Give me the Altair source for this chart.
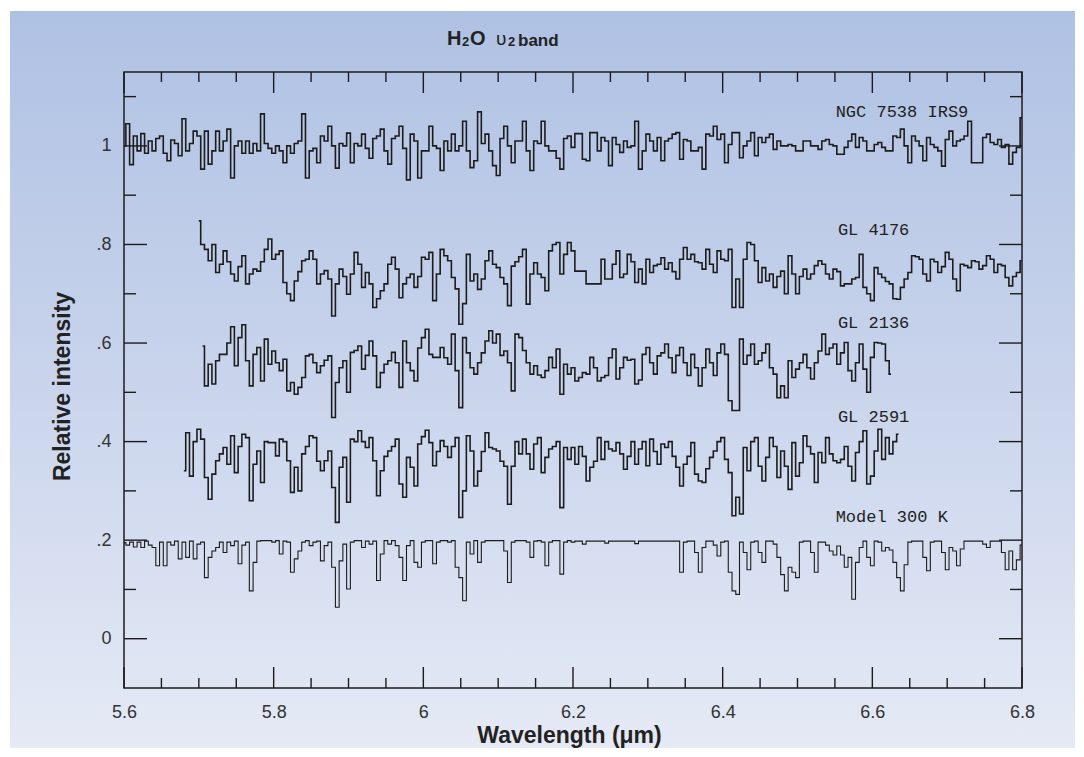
import altair as alt
import pandas as pd

# ---------------- data ----------------
STEP = 0.005  # wavelength sampling of the spectra (micron)

ngc_start = 5.600
ngc = [1.00, 1.045, 0.962, 1.02, 0.99, 1.025, 0.985, 1.01, 0.99, 1.015,
       1.02, 0.985, 0.97, 1.012, 1.005, 0.98, 1.055, 0.99, 1.005, 1.03,
       1.02, 0.953, 1.03, 0.963, 0.99, 1.03, 0.99, 1.01, 1.034, 0.935,
       1.0, 1.01, 0.985, 1.01, 0.985, 1.005, 0.99, 1.065, 1.005, 0.995,
       0.985, 1.0, 0.99, 0.966, 1.0, 0.985, 1.005, 1.01, 1.065, 0.935,
       0.99, 0.995, 0.966, 1.02, 1.01, 1.04, 1.0, 0.955, 1.005, 1.0,
       1.026, 0.966, 1.005, 1.0, 1.024, 0.995, 0.975, 1.015, 1.02, 1.034,
       0.99, 0.963, 1.015, 1.02, 1.04, 0.995, 0.931, 1.024, 1.01, 0.935,
       0.99, 0.99, 1.04, 1.0, 0.995, 0.95, 1.01, 0.99, 1.024, 0.99,
       1.0, 1.05, 0.99, 0.956, 0.97, 1.069, 1.005, 1.024, 0.99, 0.96,
       0.94, 1.015, 1.04, 1.0, 0.966, 1.01, 1.01, 1.05, 0.99, 0.95,
       1.01, 1.005, 1.05, 1.0, 0.99, 0.99, 0.975, 0.953, 1.015, 1.02,
       0.997, 1.025, 1.025, 0.973, 0.97, 1.027, 1.027, 0.99, 1.017, 1.01,
       0.96, 1.017, 1.003, 0.987, 1.01, 0.997, 1.0, 1.05, 0.953, 0.99,
       1.024, 1.01, 0.99, 1.017, 0.97, 1.01, 1.015, 1.024, 1.027, 0.973,
       1.013, 1.01, 0.99, 0.99, 0.997, 0.953, 1.024, 1.02, 1.04, 1.013,
       1.024, 0.966, 1.003, 1.027, 1.027, 0.976, 1.0, 1.01, 1.027, 0.98,
       1.017, 1.007, 1.017, 1.024, 0.993, 1.01, 1.0, 1.0, 1.003, 1.0,
       0.99, 0.99, 1.01, 1.01, 1.0, 1.0, 0.993, 1.01, 1.013, 1.003,
       1.0, 0.983, 0.983, 0.997, 1.01, 1.024, 0.997, 1.017, 1.01, 0.99,
       0.99, 1.003, 1.007, 0.997, 0.99, 0.99, 1.02, 1.017, 1.034, 1.0,
       0.966, 1.02, 1.01, 1.0, 0.97, 1.017, 1.003, 0.997, 0.99, 0.959,
       1.013, 1.03, 1.0, 1.01, 1.013, 1.02, 1.05, 0.966, 0.966, 0.966,
       1.017, 1.024, 1.007, 1.003, 1.013, 0.997, 1.003, 0.963, 0.987, 0.997, 1.057]

gl4176_start = 5.700
gl4176 = [0.848, 0.80, 0.79, 0.767, 0.80, 0.743, 0.76, 0.787, 0.765, 0.74,
          0.726, 0.755, 0.777, 0.72, 0.74, 0.75, 0.746, 0.765, 0.79, 0.811,
          0.77, 0.78, 0.787, 0.723, 0.70, 0.686, 0.726, 0.745, 0.767, 0.77,
          0.787, 0.77, 0.72, 0.74, 0.747, 0.73, 0.655, 0.72, 0.75, 0.735,
          0.699, 0.74, 0.784, 0.76, 0.713, 0.743, 0.72, 0.672, 0.69, 0.706,
          0.72, 0.76, 0.774, 0.75, 0.692, 0.72, 0.733, 0.74, 0.713, 0.735,
          0.774, 0.77, 0.784, 0.686, 0.74, 0.79, 0.777, 0.767, 0.733, 0.71,
          0.638, 0.68, 0.78, 0.726, 0.74, 0.709, 0.73, 0.767, 0.787, 0.76,
          0.753, 0.733, 0.72, 0.676, 0.756, 0.765, 0.775, 0.79, 0.679, 0.74,
          0.763, 0.74, 0.733, 0.706, 0.787, 0.80, 0.804, 0.74, 0.78, 0.804,
          0.787, 0.746, 0.746, 0.746, 0.72, 0.72, 0.72, 0.72, 0.77, 0.73,
          0.73, 0.76, 0.787, 0.733, 0.74, 0.78, 0.765, 0.723, 0.75, 0.72,
          0.77, 0.743, 0.757, 0.76, 0.773, 0.75, 0.763, 0.745, 0.73, 0.77,
          0.794, 0.77, 0.78, 0.765, 0.763, 0.75, 0.79, 0.76, 0.743, 0.787,
          0.77, 0.767, 0.79, 0.672, 0.73, 0.672, 0.77, 0.804, 0.80, 0.767,
          0.723, 0.753, 0.726, 0.74, 0.713, 0.735, 0.746, 0.70, 0.777, 0.74,
          0.70, 0.735, 0.75, 0.73, 0.74, 0.757, 0.767, 0.76, 0.74, 0.73,
          0.75, 0.745, 0.716, 0.72, 0.72, 0.73, 0.733, 0.78, 0.713, 0.70,
          0.686, 0.753, 0.74, 0.733, 0.725, 0.72, 0.69, 0.689, 0.713, 0.73,
          0.743, 0.777, 0.775, 0.77, 0.74, 0.726, 0.77, 0.765, 0.743, 0.755,
          0.784, 0.77, 0.73, 0.706, 0.76, 0.757, 0.753, 0.767, 0.765, 0.75,
          0.757, 0.777, 0.77, 0.743, 0.76, 0.757, 0.733, 0.716, 0.735, 0.743, 0.767]

gl2136_start = 5.705
gl2136 = [0.594, 0.513, 0.557, 0.517, 0.564, 0.577, 0.577, 0.60, 0.633,
          0.554, 0.611, 0.637, 0.564, 0.513, 0.577, 0.591, 0.523, 0.608, 0.557,
          0.584, 0.56, 0.544, 0.567, 0.503, 0.52, 0.496, 0.51, 0.53, 0.574,
          0.577, 0.56, 0.54, 0.554, 0.565, 0.574, 0.449, 0.52, 0.55, 0.564,
          0.50, 0.581, 0.585, 0.594, 0.547, 0.575, 0.604, 0.574, 0.51, 0.54,
          0.557, 0.564, 0.581, 0.56, 0.51, 0.604, 0.56, 0.544, 0.523, 0.59,
          0.611, 0.628, 0.577, 0.571, 0.571, 0.591, 0.57, 0.557, 0.618, 0.544,
          0.469, 0.611, 0.58, 0.55, 0.537, 0.56, 0.58, 0.604, 0.625, 0.60,
          0.618, 0.575, 0.584, 0.56, 0.503, 0.618, 0.611, 0.585, 0.56, 0.537,
          0.554, 0.535, 0.53, 0.544, 0.571, 0.55, 0.588, 0.496, 0.557, 0.537,
          0.55, 0.523, 0.53, 0.54, 0.537, 0.571, 0.55, 0.523, 0.53, 0.534,
          0.57, 0.588, 0.527, 0.55, 0.571, 0.565, 0.567, 0.517, 0.525, 0.577,
          0.591, 0.56, 0.537, 0.574, 0.58, 0.598, 0.57, 0.54, 0.575, 0.591,
          0.56, 0.534, 0.577, 0.55, 0.513, 0.55, 0.588, 0.56, 0.534, 0.58,
          0.598, 0.577, 0.483, 0.463, 0.463, 0.608, 0.557, 0.575, 0.598, 0.557,
          0.564, 0.58, 0.598, 0.55, 0.537, 0.489, 0.513, 0.489, 0.564, 0.53,
          0.547, 0.56, 0.577, 0.55, 0.527, 0.56, 0.584, 0.618, 0.577, 0.59,
          0.598, 0.557, 0.58, 0.601, 0.544, 0.523, 0.56, 0.598, 0.547, 0.50,
          0.571, 0.601, 0.60, 0.598, 0.564, 0.537]

gl2591_start = 5.680
gl2591 = [0.341, 0.418, 0.33, 0.40,
          0.425, 0.405, 0.327, 0.283, 0.334, 0.361, 0.375, 0.388, 0.354, 0.412,
          0.337, 0.39, 0.415, 0.408, 0.28, 0.354, 0.381, 0.317, 0.40, 0.398,
          0.398, 0.371, 0.405, 0.40, 0.361, 0.297, 0.348, 0.30, 0.375, 0.39,
          0.412, 0.408, 0.36, 0.341, 0.361, 0.381, 0.307, 0.236, 0.348, 0.368,
          0.277, 0.405, 0.40, 0.422, 0.40, 0.388, 0.408, 0.361, 0.29, 0.341,
          0.37, 0.381, 0.39, 0.405, 0.314, 0.287, 0.368, 0.348, 0.31, 0.395,
          0.41, 0.423, 0.398, 0.351, 0.38, 0.402, 0.39, 0.368, 0.39, 0.408,
          0.246, 0.30, 0.412, 0.381, 0.31, 0.34, 0.38, 0.418, 0.388, 0.385,
          0.381, 0.36, 0.35, 0.273, 0.35, 0.40, 0.375, 0.405, 0.375, 0.344,
          0.395, 0.408, 0.337, 0.368, 0.385, 0.39, 0.40, 0.266, 0.388, 0.364,
          0.388, 0.354, 0.39, 0.37, 0.32, 0.348, 0.36, 0.408, 0.364, 0.40,
          0.385, 0.381, 0.398, 0.375, 0.344, 0.37, 0.40, 0.354, 0.385, 0.40,
          0.351, 0.405, 0.38, 0.354, 0.395, 0.388, 0.40, 0.37, 0.348, 0.31,
          0.354, 0.37, 0.398, 0.334, 0.32, 0.317, 0.345, 0.368, 0.381, 0.40,
          0.408, 0.364, 0.337, 0.2495, 0.287, 0.253, 0.388, 0.341, 0.40, 0.408,
          0.35, 0.32, 0.368, 0.408, 0.39, 0.327, 0.381, 0.35, 0.303, 0.398,
          0.33, 0.357, 0.412, 0.39, 0.375, 0.317, 0.378, 0.357, 0.408, 0.375,
          0.361, 0.357, 0.364, 0.39, 0.35, 0.32, 0.378, 0.40, 0.422, 0.314,
          0.33, 0.381, 0.425, 0.364, 0.408, 0.375, 0.40, 0.415]

model_start = 5.600
model = [0.195, 0.19, 0.196, 0.186, 0.196, 0.185, 0.198, 0.19, 0.185, 0.148,
         0.196, 0.148, 0.196, 0.19, 0.198, 0.162, 0.196, 0.165, 0.198, 0.162,
         0.192, 0.196, 0.124, 0.165, 0.178, 0.185, 0.196, 0.175, 0.196, 0.189,
         0.198, 0.152, 0.19, 0.196, 0.097, 0.155, 0.198, 0.199, 0.199, 0.199,
         0.196, 0.199, 0.172, 0.198, 0.196, 0.135, 0.162, 0.178, 0.196, 0.199,
         0.189, 0.196, 0.198, 0.158, 0.189, 0.196, 0.145, 0.064, 0.158, 0.192,
         0.101, 0.196, 0.199, 0.199, 0.185, 0.198, 0.192, 0.198, 0.118, 0.172,
         0.199, 0.192, 0.199, 0.189, 0.165, 0.118, 0.189, 0.199, 0.155, 0.145,
         0.196, 0.199, 0.199, 0.152, 0.196, 0.199, 0.199, 0.196, 0.199, 0.145,
         0.124, 0.077, 0.196, 0.172, 0.199, 0.155, 0.196, 0.199, 0.199, 0.199,
         0.199, 0.199, 0.178, 0.114, 0.196, 0.199, 0.199, 0.199, 0.196, 0.165,
         0.198, 0.199, 0.196, 0.148, 0.196, 0.199, 0.199, 0.131, 0.196, 0.199,
         0.196, 0.198, 0.198, 0.192, 0.198, 0.198, 0.198, 0.198, 0.198, 0.194,
         0.198, 0.198, 0.198, 0.198, 0.198, 0.198, 0.198, 0.193, 0.198, 0.198,
         0.198, 0.198, 0.198, 0.198, 0.198, 0.198, 0.198, 0.198, 0.198, 0.135,
         0.196, 0.198, 0.198, 0.175, 0.135, 0.185, 0.198, 0.198, 0.19, 0.168,
         0.196, 0.198, 0.135, 0.097, 0.09, 0.196, 0.175, 0.14, 0.196, 0.198,
         0.175, 0.155, 0.198, 0.198, 0.192, 0.165, 0.13, 0.097, 0.145, 0.135,
         0.124, 0.196, 0.198, 0.198, 0.175, 0.135, 0.196, 0.196, 0.19, 0.178,
         0.17, 0.188, 0.17, 0.145, 0.165, 0.08, 0.155, 0.185, 0.198, 0.165,
         0.148, 0.198, 0.196, 0.178, 0.185, 0.18, 0.155, 0.124, 0.097, 0.15,
         0.196, 0.198, 0.198, 0.198, 0.165, 0.138, 0.196, 0.198, 0.198, 0.175,
         0.14, 0.185, 0.178, 0.148, 0.182, 0.198, 0.198, 0.198, 0.198, 0.198,
         0.192, 0.185, 0.198, 0.198, 0.198, 0.175, 0.14, 0.178, 0.14, 0.16, 0.19]

label_names = ["NGC 7538 IRS9", "GL 4176", "GL 2136", "GL 2591", "Model 300 K"]
label_lam = [6.551, 6.554, 6.554, 6.554, 6.551]
label_val = [1.069, 0.830, 0.640, 0.450, 0.2475]

x_major = [5.6, 5.8, 6.0, 6.2, 6.4, 6.6, 6.8]
x_minor = [5.65, 5.7, 5.75, 5.85, 5.9, 5.95, 6.05, 6.1, 6.15, 6.25, 6.3,
           6.35, 6.45, 6.5, 6.55, 6.65, 6.7, 6.75]
y_major = [0.0, 0.2, 0.4, 0.6, 0.8, 1.0]
y_minor = [0.1, 0.3, 0.5, 0.7, 0.9, 1.1]

# ---------------- tables ----------------
def spectrum(name, start, vals):
    return pd.DataFrame({"series": name,
                         "lam": [round(start + i * STEP, 4) for i in range(len(vals))],
                         "val": vals})

obs = pd.concat([spectrum("NGC 7538 IRS9", ngc_start, ngc),
                 spectrum("GL 4176", gl4176_start, gl4176),
                 spectrum("GL 2136", gl2136_start, gl2136),
                 spectrum("GL 2591", gl2591_start, gl2591)], ignore_index=True)
mod = spectrum("Model 300 K", model_start, model)
labels = pd.DataFrame({"name": label_names, "lam": label_lam, "val": label_val})

W, H = 898, 616
INK = "#1c1c1c"
XT = "Wavelength (μm)"
YT = "Relative intensity"
xs = alt.Scale(domain=[5.6, 6.8], nice=False, zero=False)
ys = alt.Scale(domain=[-0.1, 1.15], nice=False, zero=False)
one = alt.Data(values=[{"k": 1}])

ax_x = alt.Axis(values=x_major, ticks=False, domain=False, grid=False, zindex=2,
                labelFlush=False,
                labelExpr="datum.value == 6 ? '6' : format(datum.value, '.1f')",
                labelFont="Liberation Sans", labelFontSize=18, labelColor="#333",
                labelPadding=15,
                titleFont="Liberation Sans", titleFontSize=23, titleFontWeight="bold",
                titleColor="#222", titleX=445, titleY=47,
                titleAlign="center", titleBaseline="middle")
ax_y = alt.Axis(values=y_major, ticks=False, domain=False, grid=False, zindex=2,
                labelFlush=False,
                labelExpr="datum.value == 0 ? '0' : datum.value == 1 ? '1' : '.' + round(datum.value * 10)",
                labelFont="Liberation Sans", labelFontSize=18, labelColor="#333",
                labelPadding=13,
                titleFont="Liberation Sans", titleFontSize=23, titleFontWeight="bold",
                titleColor="#222", titleX=-62, titleY=314,
                titleAlign="center", titleBaseline="middle")

def X(field):
    return alt.X(field, scale=xs, axis=ax_x, title=XT)

def Y(field):
    return alt.Y(field, scale=ys, axis=ax_y, title=YT)

grad = alt.LinearGradient(
    gradient="linear",
    stops=[alt.GradientStop(offset=0, color="#afc1e3"),
           alt.GradientStop(offset=0.5, color="#c9d4ec"),
           alt.GradientStop(offset=1, color="#e5eaf5")],
    x1=0, x2=0, y1=0, y2=1)

bg = alt.Chart(one).mark_rect(fill=grad).encode(
    x=alt.value(-114), x2=alt.value(951), y=alt.value(-61), y2=alt.value(680))

def xticks(vals, length):
    d = pd.DataFrame({"t": vals})
    bot = alt.Chart(d).mark_rule(color=INK, strokeWidth=1.4).encode(
        x=X("t:Q"), y=alt.value(H), y2=alt.value(H - length))
    top = alt.Chart(d).mark_rule(color=INK, strokeWidth=1.4).encode(
        x=X("t:Q"), y=alt.value(0), y2=alt.value(length))
    return [bot, top]

def yticks(vals, length):
    d = pd.DataFrame({"t": vals})
    lft = alt.Chart(d).mark_rule(color=INK, strokeWidth=1.4).encode(
        y=Y("t:Q"), x=alt.value(0), x2=alt.value(length))
    rgt = alt.Chart(d).mark_rule(color=INK, strokeWidth=1.4).encode(
        y=Y("t:Q"), x=alt.value(W), x2=alt.value(W - length))
    return [lft, rgt]

ticks = xticks(x_major, 21) + xticks(x_minor, 10) + yticks(y_major, 23) + yticks(y_minor, 12)

obs_line = alt.Chart(obs).mark_line(interpolate="step", color=INK, strokeWidth=1.6).encode(
    x=X("lam:Q"), y=Y("val:Q"), detail="series:N")

mod_line = alt.Chart(mod).mark_line(interpolate="step", color=INK, strokeWidth=1.1).encode(
    x=X("lam:Q"), y=Y("val:Q"))

lab = alt.Chart(labels).mark_text(align="left", baseline="middle", font="Liberation Mono",
                                  fontSize=17, color="#222").encode(
    x=X("lam:Q"), y=Y("val:Q"), text="name:N")

def txt(s, x, y, size, weight="normal"):
    return alt.Chart(one).mark_text(text=s, align="left", baseline="alphabetic",
                                    font="Liberation Sans", fontSize=size,
                                    fontWeight=weight, color="#222").encode(
        x=alt.value(x), y=alt.value(y))

title = [txt("H", 447 - 124, 45 - 72, 20, "bold"),
         txt("2", 462 - 124, 46 - 72, 13, "bold"),
         txt("O", 470 - 124, 45 - 72, 20, "bold"),
         txt("υ", 496 - 124, 45 - 72, 19),
         txt("2", 508 - 124, 46 - 72, 13, "bold"),
         txt("band", 518 - 124, 46 - 72, 17, "bold")]

frame = alt.Chart(one).mark_rect(fill="transparent", stroke=INK, strokeWidth=1.5).encode(
    x=alt.value(0), x2=alt.value(W), y=alt.value(0), y2=alt.value(H))

chart = alt.layer(bg, *ticks, obs_line, mod_line, lab, *title, frame).properties(
    width=W, height=H,
    autosize=alt.AutoSizeParams(type="none"),
    padding={"left": 116, "top": 64, "right": 54, "bottom": 60},
    background="white",
).configure_view(strokeWidth=0)

chart.save("out.html", embed_options={"renderer": "svg", "actions": False})
